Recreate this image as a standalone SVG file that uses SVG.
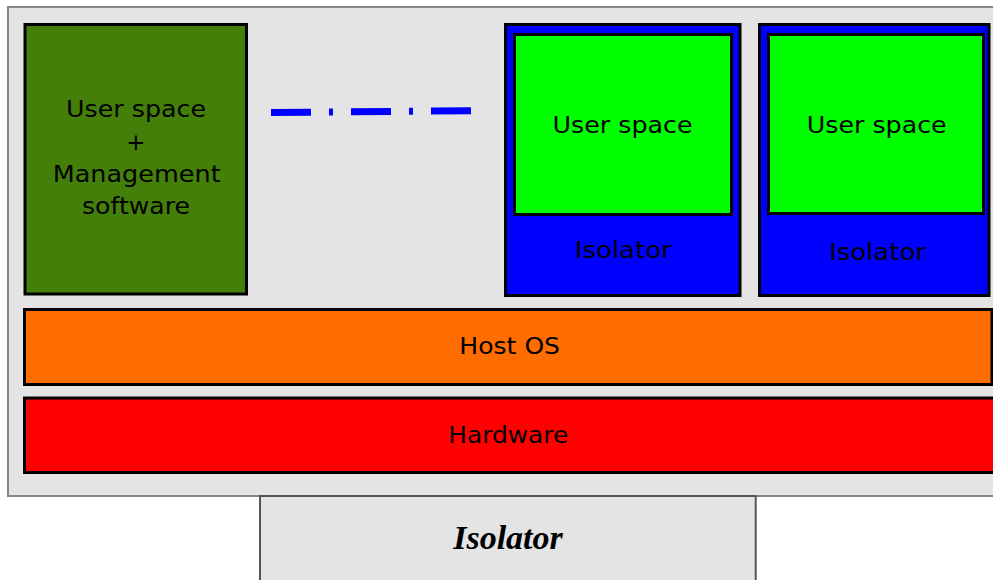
<svg xmlns="http://www.w3.org/2000/svg" width="993" height="580" viewBox="0 0 993 580">
<style>
.box{stroke:#000;stroke-width:3}
.t{font-family:"DejaVu Sans",Verdana,sans-serif;font-size:23px;fill:#000;text-anchor:middle}
.iso{font-family:"Liberation Serif","Times New Roman",serif;font-size:34px;font-weight:bold;font-style:italic;fill:#000;text-anchor:middle}
</style>
<rect width="993" height="580" fill="#fff"/>
<g id="frame">
<rect x="8" y="7" width="1000" height="489" fill="#e4e4e4" stroke="#858585" stroke-width="2"/>
</g>
<g id="mgmt">
<rect class="box" x="25" y="24.5" width="221.5" height="269.5" fill="#447f0a"/>
<text class="t" x="136" y="117.3" textLength="140" lengthAdjust="spacingAndGlyphs">User space</text>
<text class="t" x="136" y="149.5">+</text>
<text class="t" x="136.7" y="181.7" textLength="168" lengthAdjust="spacingAndGlyphs">Management</text>
<text class="t" x="136" y="213.9" textLength="108" lengthAdjust="spacingAndGlyphs">software</text>
</g>
<g id="connectors">
<line x1="271" y1="112.5" x2="472" y2="110.7" stroke="#0000ff" stroke-width="7" stroke-dasharray="40 18 4 18"/>
</g>
<g id="container1">
<rect class="box" x="505.5" y="24.5" width="234.5" height="271" fill="#0000ff"/>
<rect class="box" x="514.5" y="34.5" width="217" height="180" fill="#00ff00"/>
<text class="t" x="622.5" y="132.5" textLength="140" lengthAdjust="spacingAndGlyphs">User space</text>
<text class="t" x="623.3" y="258.3" textLength="97" lengthAdjust="spacingAndGlyphs">Isolator</text>
</g>
<g id="container2">
<rect class="box" x="759.5" y="24.5" width="229.5" height="271" fill="#0000ff"/>
<rect class="box" x="768.5" y="34.5" width="215" height="179" fill="#00ff00"/>
<text class="t" x="876.7" y="132.5" textLength="140" lengthAdjust="spacingAndGlyphs">User space</text>
<text class="t" x="877.5" y="260" textLength="97" lengthAdjust="spacingAndGlyphs">Isolator</text>
</g>
<g id="hostos">
<rect class="box" x="24.5" y="309.5" width="967.5" height="75" fill="#ff6c00"/>
<text class="t" x="509.7" y="354.3" textLength="100.7" lengthAdjust="spacingAndGlyphs">Host OS</text>
</g>
<g id="hardware">
<rect class="box" x="24.5" y="398" width="980" height="74.5" fill="#ff0000"/>
<text class="t" x="508.3" y="443.3" textLength="120" lengthAdjust="spacingAndGlyphs">Hardware</text>
</g>
<g id="label">
<rect x="260" y="496" width="495.7" height="100" fill="#e4e4e4" stroke="#555" stroke-width="2"/>
<text class="iso" x="508" y="549.3">Isolator</text>
</g>
</svg>
